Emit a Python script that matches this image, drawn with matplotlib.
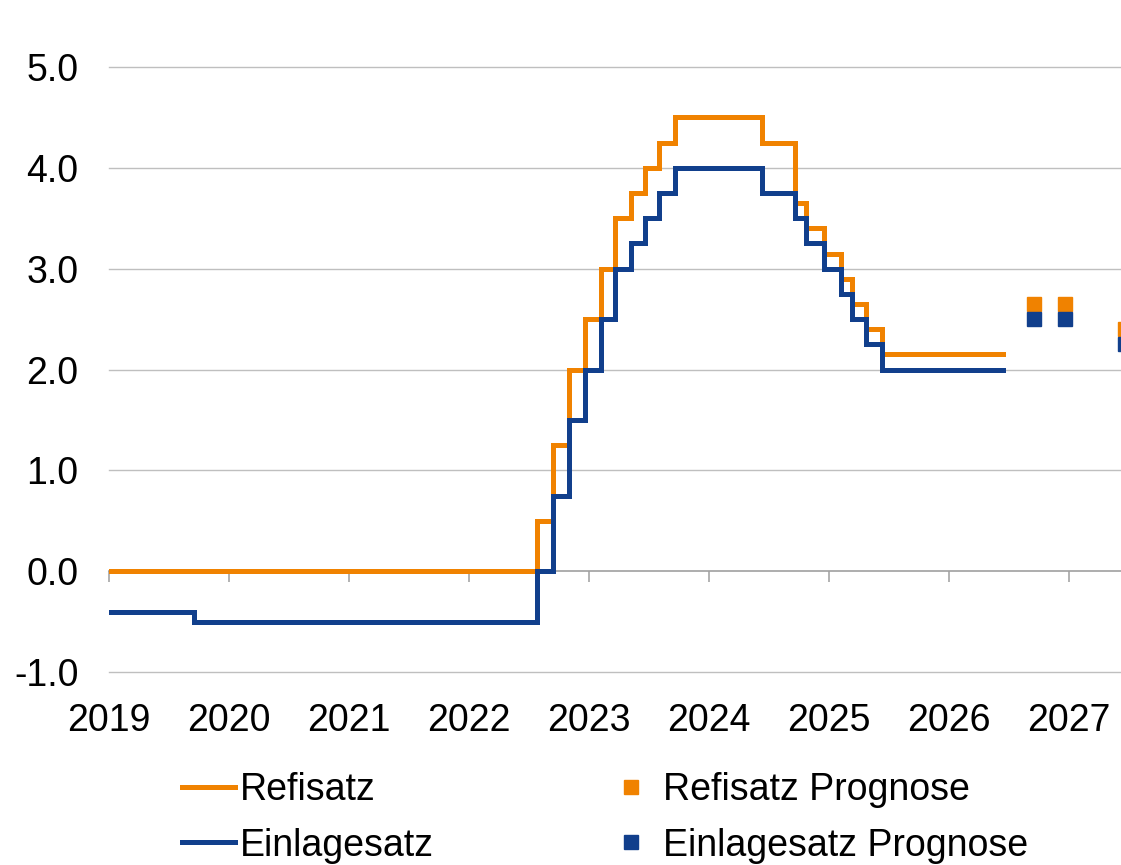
import numpy as np
import pandas as pd
import matplotlib
matplotlib.use('Agg')
import matplotlib.pyplot as plt
from matplotlib.lines import Line2D

plt.rcParams['font.family'] = ['Liberation Sans', 'DejaVu Sans']
plt.rcParams['axes.unicode_minus'] = False

# Leitzinsen der EZB (Stufen, gueltig ab Datum)
refi_daten = ['2019-01-01', '2022-07-27', '2022-09-14', '2022-11-02', '2022-12-21',
              '2023-02-08', '2023-03-22', '2023-05-10', '2023-06-21', '2023-08-02',
              '2023-09-20', '2024-06-12', '2024-09-18', '2024-10-23', '2024-12-18',
              '2025-02-05', '2025-03-12', '2025-04-23', '2025-06-11', '2026-06-15']
refi_werte = [0.0, 0.5, 1.25, 2.0, 2.5, 3.0, 3.5, 3.75, 4.0, 4.25,
              4.5, 4.25, 3.65, 3.4, 3.15, 2.9, 2.65, 2.4, 2.15, 2.15]

einlage_daten = ['2019-01-01', '2019-09-18', '2022-07-27', '2022-09-14', '2022-11-02',
                 '2022-12-21', '2023-02-08', '2023-03-22', '2023-05-10', '2023-06-21',
                 '2023-08-02', '2023-09-20', '2024-06-12', '2024-09-18', '2024-10-23',
                 '2024-12-18', '2025-02-05', '2025-03-12', '2025-04-23', '2025-06-11',
                 '2026-06-15']
einlage_werte = [-0.4, -0.5, 0.0, 0.75, 1.5, 2.0, 2.5, 3.0, 3.25, 3.5, 3.75, 4.0,
                 3.75, 3.5, 3.25, 3.0, 2.75, 2.5, 2.25, 2.0, 2.0]

prognose_daten = ['2026-09-18', '2026-12-20', '2027-06-20']
refi_prognose = [2.65, 2.65, 2.40]
einlage_prognose = [2.50, 2.50, 2.25]

jahre = list(range(2019, 2028))
y_ticks = [-1.0, 0.0, 1.0, 2.0, 3.0, 4.0, 5.0]

ORANGE = '#F08200'
BLAU = '#113F8C'
FS = 27


def dezimaljahr(daten):
    d = pd.to_datetime(pd.Series(daten))
    tage = np.where(d.dt.is_leap_year, 366, 365)
    return (d.dt.year + (d.dt.dayofyear - 1) / tage).to_numpy()


fig = plt.figure(figsize=(11.21, 8.65), dpi=100)
ax = fig.add_axes([109 / 1121, (865 - 672) / 865, 1 - 109 / 1121, (672 - 30) / 865])

ax.set_xlim(2019, 2019 + 1012 / 120)
ax.set_ylim(-1.0, 5.0 + 37 / 100.8)

ax.set_yticks(y_ticks)
ax.set_yticklabels([f'{v:.1f}' for v in y_ticks])
ax.set_xticks(jahre)
ax.set_xticklabels([str(j) for j in jahre])
ax.tick_params(axis='both', length=0, labelsize=FS, colors='black')
ax.tick_params(axis='y', pad=22)
ax.tick_params(axis='x', pad=22)
for s in ax.spines.values():
    s.set_visible(False)

for v in y_ticks:
    if v != 0:
        ax.axhline(v, color='#BFBFBF', lw=1.0, zorder=1, clip_on=False)

# Nulllinie mit Teilstrichen
null_achse = ax.secondary_xaxis(location=(0 - (-1.0)) / (ax.get_ylim()[1] + 1.0))
null_achse.set_xticks(jahre)
null_achse.set_xticklabels([])
null_achse.tick_params(length=8, width=1.2, color='#A6A6A6', direction='out')
null_achse.spines['bottom'].set_color('#A0A0A0')
null_achse.spines['bottom'].set_linewidth(1.2)

ax.step(dezimaljahr(refi_daten), refi_werte, where='post', color=ORANGE, lw=3.6,
        zorder=3, solid_joinstyle='miter')
ax.step(dezimaljahr(einlage_daten), einlage_werte, where='post', color=BLAU, lw=3.6,
        zorder=4, solid_joinstyle='miter')

px = dezimaljahr(prognose_daten)
ax.plot(px, refi_prognose, 's', color=ORANGE, ms=10, ls='none', clip_on=False, zorder=5)
ax.plot(px, einlage_prognose, 's', color=BLAU, ms=10, ls='none', clip_on=False, zorder=5)

handles = [
    Line2D([], [], color=ORANGE, lw=3.6),
    Line2D([], [], color=BLAU, lw=3.6),
    Line2D([], [], color=ORANGE, marker='s', ls='none', ms=10),
    Line2D([], [], color=BLAU, marker='s', ls='none', ms=10),
]
labels = ['Refisatz', 'Einlagesatz', 'Refisatz Prognose', 'Einlagesatz Prognose']
fig.legend(handles, labels, ncol=2, loc='upper left',
           bbox_to_anchor=(182 / 1121, 1 - 772 / 865), frameon=False,
           fontsize=FS, handlelength=1.42, handletextpad=0.13,
           columnspacing=4.55, labelspacing=0.52, borderaxespad=0, borderpad=0)

fig.savefig('out.png', dpi=100)
